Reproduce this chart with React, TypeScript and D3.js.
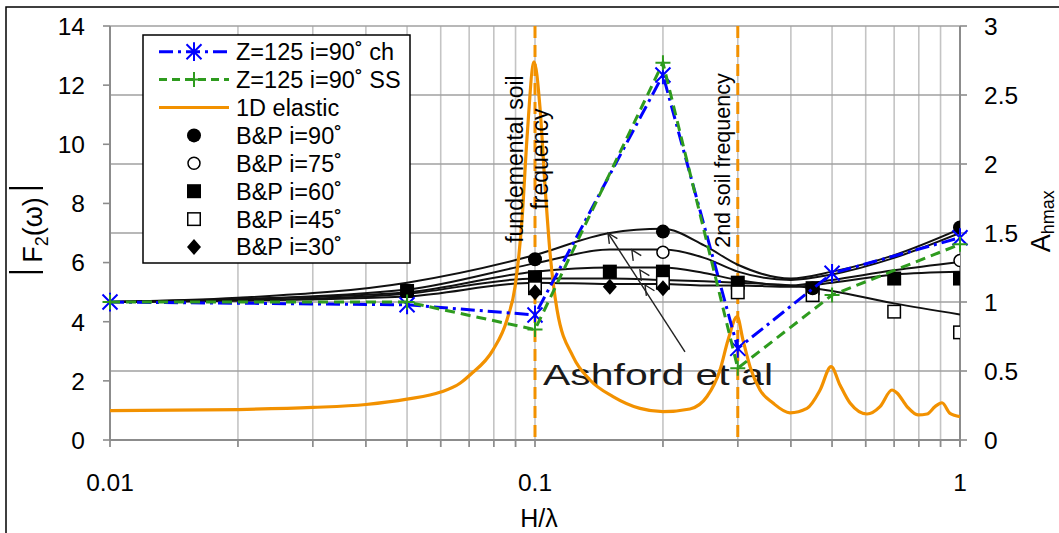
import React from 'react';
import * as d3 from 'd3';

const W = 1059;
const H = 533;
const FONT = 'Liberation Sans, Arial, Helvetica, sans-serif';

// ---- data ----
const leftTicks = [0, 2, 4, 6, 8, 10, 12, 14];
const rightTicks = [0, 0.5, 1, 1.5, 2, 2.5, 3];
const xTickLabels = [0.01, 0.1, 1];
const soilFreqs = [0.1, 0.3];

// Z=125 series (right axis, A_hmax)
const zX = [0.01, 0.05, 0.1, 0.2, 0.3, 0.5, 1.0];
const zChannel = [1.0, 0.98, 0.906, 2.645, 0.664, 1.208, 1.466];
const zSS = [1.0, 1.0, 0.8, 2.734, 0.52, 1.05, 1.418];

// 1D elastic transfer function (left axis)
const elasticX = [0.01, 0.02, 0.03, 0.04, 0.05, 0.06, 0.0666, 0.0703, 0.0796, 0.0859, 0.0898, 0.0932, 0.0958, 0.0995, 0.1027, 0.1056, 0.1085, 0.1127, 0.1229, 0.1347, 0.1526, 0.1766, 0.2, 0.2315, 0.2539, 0.2725, 0.2846, 0.299, 0.3086, 0.3206, 0.3384, 0.3631, 0.398, 0.4365, 0.4685, 0.4973, 0.5219, 0.5511, 0.6042, 0.6483, 0.6918, 0.711, 0.7505, 0.7965, 0.8365, 0.8735, 0.9071, 0.9473, 1.0];
const elasticY = [0.99, 1.03, 1.1, 1.2, 1.38, 1.62, 1.92, 2.2, 3.04, 4.06, 5.2, 7.44, 10.25, 12.79, 11.27, 8.57, 6.32, 4.4, 2.82, 2.03, 1.47, 1.07, 0.96, 1.05, 1.47, 2.37, 3.38, 4.17, 3.38, 2.48, 1.69, 1.25, 0.92, 1.07, 1.69, 2.48, 1.86, 1.25, 0.88, 1.13, 1.69, 1.59, 1.13, 0.85, 0.88, 1.13, 1.26, 0.9, 0.79];

// Ashford et al. curves (right axis)
const ashX = [0.01, 0.02, 0.05, 0.1, 0.15, 0.2, 0.25, 0.3, 0.4, 0.5, 0.7, 1.0];
const ash90 = [1.0, 1.03, 1.14, 1.34, 1.5, 1.53, 1.41, 1.27, 1.17, 1.22, 1.34, 1.53];
const ash75 = [1.0, 1.02, 1.09, 1.28, 1.38, 1.38, 1.32, 1.22, 1.16, 1.2, 1.32, 1.5];
const ash60 = [1.0, 1.02, 1.07, 1.22, 1.25, 1.25, 1.21, 1.16, 1.12, 1.16, 1.23, 1.29];
const ash45 = [1.0, 1.01, 1.06, 1.17, 1.17, 1.16, 1.15, 1.14, 1.12, 1.08, 0.99, 0.91];
const ash30 = [1.0, 1.01, 1.04, 1.14, 1.13, 1.13, 1.12, 1.12, 1.11, 1.14, 1.2, 1.22];
const ashArrowFrom = [0.2254, 0.638];
const ashArrowHeads = [[0.1485, 1.5], [0.169, 1.377], [0.1766, 1.232], [0.1815, 1.123]];

// B&P points (right axis)
const bp90X = [0.1, 0.2, 0.45, 1.0];
const bp90Y = [1.31, 1.51, 1.1, 1.54];
const bp75X = [0.2, 1.0];
const bp75Y = [1.36, 1.3];
const bp60X = [0.05, 0.1, 0.15, 0.2, 0.3, 0.45, 0.7, 1.0];
const bp60Y = [1.08, 1.18, 1.22, 1.22, 1.14, 1.1, 1.17, 1.17];
const bp45X = [0.1, 0.2, 0.3, 0.45, 0.7, 1.0];
const bp45Y = [1.1, 1.14, 1.07, 1.05, 0.93, 0.78];
const bp30X = [0.1, 0.15, 0.2];
const bp30Y = [1.07, 1.11, 1.1];

const ORANGE = '#F29100';
const BLUE = '#0000FF';
const GREEN = '#2E9B1E';

const zip = (a: number[], b: number[]) => a.map((v, i) => [v, b[i]] as [number, number]);

const starPath = (s: number) => `M${-s},${-s}L${s},${s}M${-s},${s}L${s},${-s}M0,${-s * 1.25}L0,${s * 1.25}`;
const plusPath = (s: number) => `M${-s},0L${s},0M0,${-s}L0,${s}`;

function Marker({ kind, cx, cy }: { kind: string; cx: number; cy: number }) {
  const r = 7;
  if (kind === 'fc') return <circle cx={cx} cy={cy} r={r} fill="#000" />;
  if (kind === 'oc') return <circle cx={cx} cy={cy} r={r - 1} fill="#fff" stroke="#000" strokeWidth={1.5} />;
  if (kind === 'fs') return <rect x={cx - r} y={cy - r} width={2 * r} height={2 * r} fill="#000" />;
  if (kind === 'os') return <rect x={cx - r + 0.75} y={cy - r + 0.75} width={2 * r - 1.5} height={2 * r - 1.5} fill="#fff" stroke="#000" strokeWidth={1.5} />;
  return <path d={`M${cx},${cy - r - 1}L${cx + r},${cy}L${cx},${cy + r + 1}L${cx - r},${cy}Z`} fill="#000" />;
}

export default function App() {
  const x = d3.scaleLog().domain([0.01, 1]).range([110, 960]);
  const yL = d3.scaleLinear().domain([0, 14]).range([440, 26]);
  const yR = d3.scaleLinear().domain([0, 3]).range([440, 26]);
  const [x0, x1] = x.range();
  const [yb, yt] = yL.range();

  const gridX = x.ticks();
  const lineR = d3.line<[number, number]>().x(d => x(d[0])).y(d => yR(d[1]));
  const smoothR = d3.line<[number, number]>().x(d => x(d[0])).y(d => yR(d[1])).curve(d3.curveMonotoneX);
  const smoothL = d3.line<[number, number]>().x(d => x(d[0])).y(d => yL(d[1])).curve(d3.curveMonotoneX);

  const ashCurves = [ash90, ash75, ash60, ash45, ash30];
  const bpSets: [string, number[], number[]][] = [
    ['fs', bp60X, bp60Y],
    ['os', bp45X, bp45Y],
    ['d', bp30X, bp30Y],
    ['oc', bp75X, bp75Y],
    ['fc', bp90X, bp90Y],
  ];

  // arrow geometry
  const ax0 = x(ashArrowFrom[0]);
  const ay0 = yR(ashArrowFrom[1]);
  const ax1 = x(ashArrowHeads[0][0]);
  const ay1 = yR(ashArrowHeads[0][1]);
  const ang = Math.atan2(ay0 - ay1, ax0 - ax1);

  const legendItems = [
    { label: 'Z=125 i=90˚ ch', type: 'blue' },
    { label: 'Z=125 i=90˚ SS', type: 'green' },
    { label: '1D elastic', type: 'orange' },
    { label: 'B&P i=90˚', type: 'fc' },
    { label: 'B&P i=75˚', type: 'oc' },
    { label: 'B&P i=60˚', type: 'fs' },
    { label: 'B&P i=45˚', type: 'os' },
    { label: 'B&P i=30˚', type: 'd' },
  ];
  const lgX = 143, lgY = 35, lgW = 267, lgH = 228, rowH = 27.9, row0 = 51.7;

  return (
    <svg width={W} height={H} style={{ position: 'absolute', left: 0, top: 0, background: '#fff' }} fontFamily={FONT}>
      <defs>
        <clipPath id="plotClip">
          <rect x={x0} y={yt} width={x1 - x0} height={yb - yt} />
        </clipPath>
      </defs>
      <rect x={0} y={0} width={W} height={H} fill="#fff" />
      <rect x={6} y={7} width={W + 20} height={H + 20} fill="none" stroke="#000" strokeWidth={1.5} />

      {/* grid */}
      {gridX.map((t, i) => (
        <line key={'gx' + i} x1={x(t)} x2={x(t)} y1={yt} y2={yb + 7} stroke="#C4C4C4" strokeWidth={1.6} />
      ))}
      {rightTicks.filter(t => t > 0).map((t, i) => (
        <line key={'gy' + i} x1={x0} x2={x1} y1={yR(t)} y2={yR(t)} stroke="#A0A0A0" strokeWidth={1.6} />
      ))}

      {/* axes */}
      <line x1={x0} x2={x0} y1={yt} y2={yb} stroke="#8C8C8C" strokeWidth={2} />
      <line x1={x1} x2={x1} y1={yt} y2={yb + 7} stroke="#8C8C8C" strokeWidth={2} />
      <line x1={x0} x2={x1} y1={yb} y2={yb} stroke="#8C8C8C" strokeWidth={2} />
      {gridX.map((t, i) => (
        <line key={'tx' + i} x1={x(t)} x2={x(t)} y1={yb} y2={yb + 7} stroke="#8C8C8C" strokeWidth={1.6} />
      ))}
      {leftTicks.map((t, i) => (
        <line key={'tl' + i} x1={x0 - 7} x2={x0} y1={yL(t)} y2={yL(t)} stroke="#8C8C8C" strokeWidth={1.6} />
      ))}
      {rightTicks.map((t, i) => (
        <line key={'tr' + i} x1={x1} x2={x1 + 7} y1={yR(t)} y2={yR(t)} stroke="#8C8C8C" strokeWidth={1.6} />
      ))}

      {/* tick labels */}
      {leftTicks.map((t, i) => (
        <text key={'ll' + i} x={x0 - 25} y={yL(t)} dy="0.36em" textAnchor="end" fontSize={24.5} fill="#000">{t}</text>
      ))}
      {rightTicks.map((t, i) => (
        <text key={'rl' + i} x={x1 + 24} y={yR(t)} dy="0.36em" textAnchor="start" fontSize={24.5} fill="#000">{t}</text>
      ))}
      {xTickLabels.map((t, i) => (
        <text key={'xl' + i} x={x(t)} y={yb + 42} dy="0.36em" textAnchor="middle" fontSize={24.5} fill="#000">{t}</text>
      ))}
      <text x={x(0.1) + 4} y={yb + 87} textAnchor="middle" fontSize={25} fill="#000">H/λ</text>

      {/* left title */}
      <g transform={`translate(42,${yL(7.1)}) rotate(-90)`}>
        <text x={0} y={0} textAnchor="middle" fontSize={27} fill="#000">
          F<tspan fontSize={18} dy={6}>2</tspan><tspan dy={-6}>(ω)</tspan>
        </text>
        <line x1={-42} x2={-42} y1={-33} y2={1} stroke="#000" strokeWidth={2.2} />
        <line x1={42} x2={42} y1={-33} y2={1} stroke="#000" strokeWidth={2.2} />
      </g>
      {/* right title */}
      <g transform={`translate(1050,${yR(1.36)}) rotate(-90)`}>
        <text x={0} y={0} textAnchor="start" fontSize={27} fill="#000">
          A<tspan fontSize={18} dy={4}>hmax</tspan>
        </text>
      </g>

      {/* soil frequency markers */}
      {soilFreqs.map((f, i) => (
        <line key={'sf' + i} x1={x(f)} x2={x(f)} y1={yt} y2={yb} stroke={ORANGE} strokeWidth={3} strokeDasharray="12 7" />
      ))}

      {/* Ashford et al curves and B&P points */}
      <g clipPath="url(#plotClip)">
        {ashCurves.map((c, i) => (
          <path key={'ash' + i} d={smoothR(zip(ashX, c)) || ''} fill="none" stroke="#111" strokeWidth={2} />
        ))}
        <line x1={ax0} y1={ay0} x2={ax1} y2={ay1} stroke="#222" strokeWidth={1.4} />
        {ashArrowHeads.map((p, i) => {
          const px = x(p[0]);
          const py = yR(p[1]);
          const L = 11;
          const a1 = ang + 0.45;
          const a2 = ang - 0.45;
          return (
            <path key={'ah' + i}
              d={`M${px + L * Math.cos(a1)},${py + L * Math.sin(a1)}L${px},${py}L${px + L * Math.cos(a2)},${py + L * Math.sin(a2)}`}
              fill="none" stroke="#222" strokeWidth={1.4} />
          );
        })}
        {bpSets.map(([k, xs, ys]) =>
          xs.map((v, i) => <Marker key={k + i} kind={k} cx={x(v)} cy={yR(ys[i])} />)
        )}
      </g>
      <text x={x(0.1) + 8} y={yR(0.4)} fontSize={30} fill="#1a1a1a" textLength={230} lengthAdjust="spacingAndGlyphs">Ashford et al</text>

      {/* 1D elastic */}
      <path d={smoothL(zip(elasticX, elasticY)) || ''} fill="none" stroke={ORANGE} strokeWidth={3.2} strokeLinejoin="round" />

      {/* Z=125 series */}
      <path d={lineR(zip(zX, zChannel)) || ''} fill="none" stroke={BLUE} strokeWidth={3} strokeDasharray="14 5 3 5" />
      {zX.map((v, i) => (
        <path key={'zc' + i} d={starPath(7.5)} transform={`translate(${x(v)},${yR(zChannel[i])})`} stroke={BLUE} strokeWidth={2} fill="none" />
      ))}
      <path d={lineR(zip(zX, zSS)) || ''} fill="none" stroke={GREEN} strokeWidth={3} strokeDasharray="10 6" />
      {zX.map((v, i) => (
        <path key={'zs' + i} d={plusPath(7.5)} transform={`translate(${x(v)},${yR(zSS[i])})`} stroke={GREEN} strokeWidth={2} fill="none" />
      ))}

      {/* annotations */}
      <text transform={`translate(${x(0.1) - 12},${yL(9.5)}) rotate(-90)`} textAnchor="middle" fontSize={23} fill="#000">fundemental soil</text>
      <text transform={`translate(${x(0.1) + 13},${yL(9.5)}) rotate(-90)`} textAnchor="middle" fontSize={23} fill="#000">frequency</text>
      <text transform={`translate(${x(0.3) - 8},${yL(9.45)}) rotate(-90)`} textAnchor="middle" fontSize={21.5} fill="#000">2nd soil frequency</text>

      {/* legend */}
      <rect x={lgX} y={lgY} width={lgW} height={lgH} fill="#fff" stroke="#000" strokeWidth={1.5} />
      {legendItems.map((it, i) => {
        const cy = row0 + i * rowH;
        const sx0 = 159, sx1 = 229, mx = 194;
        let sym: React.ReactNode = null;
        if (it.type === 'blue') {
          sym = (
            <g>
              <line x1={sx0} x2={sx1} y1={cy} y2={cy} stroke={BLUE} strokeWidth={3} strokeDasharray="14 5 3 5" />
              <path d={starPath(7.5)} transform={`translate(${mx},${cy})`} stroke={BLUE} strokeWidth={2} fill="none" />
            </g>
          );
        } else if (it.type === 'green') {
          sym = (
            <g>
              <line x1={sx0} x2={sx1} y1={cy} y2={cy} stroke={GREEN} strokeWidth={3} strokeDasharray="8 5" />
              <path d={plusPath(7.5)} transform={`translate(${mx},${cy})`} stroke={GREEN} strokeWidth={2} fill="none" />
            </g>
          );
        } else if (it.type === 'orange') {
          sym = <line x1={sx0} x2={sx1} y1={cy} y2={cy} stroke={ORANGE} strokeWidth={3.2} />;
        } else {
          sym = <Marker kind={it.type} cx={mx} cy={cy} />;
        }
        return (
          <g key={'lg' + i}>
            {sym}
            <text x={236} y={cy} dy="0.36em" fontSize={23.5} fill="#000">{it.label}</text>
          </g>
        );
      })}
    </svg>
  );
}
